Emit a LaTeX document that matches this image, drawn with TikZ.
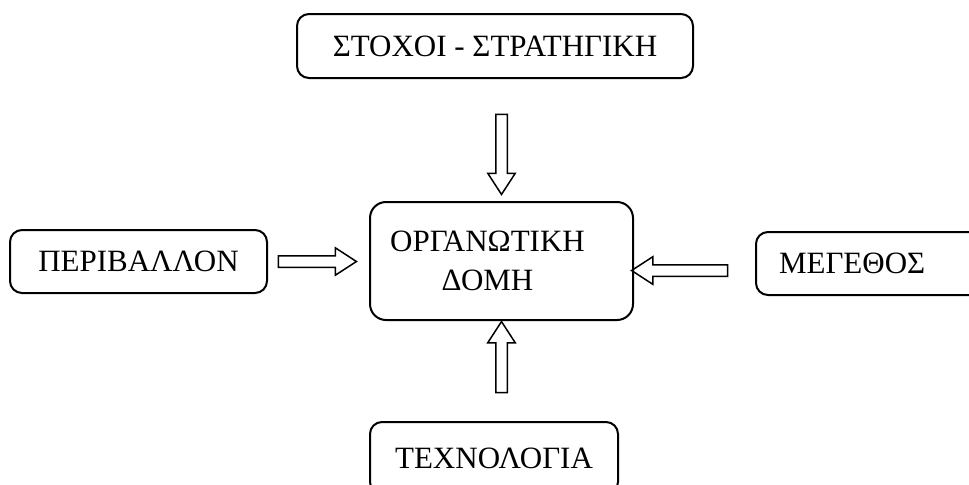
\documentclass[tikz,border=0pt]{standalone}
\usepackage{fontspec}
\setmainfont{Liberation Serif}
\usepackage{tikz}
\usetikzlibrary{calc,shapes.arrows}

\tikzset{
	box/.style={draw, line width=1pt, rounded corners=6pt, inner sep=0pt, align=center,
		font=\fontsize{15.5}{19.5}\selectfont},
	blockarrow/.style={single arrow, draw, line width=0.75pt, inner xsep=0pt, inner ysep=2.5pt,
		single arrow head extend=4pt, single arrow tip angle=66, single arrow head indent=0pt}
}

% hollow arrow from #2 to #3, named #1
\newcommand{\blockarrow}[3]{%
	\path let \p1=($(#3)-(#2)$), \n1={atan2(\y1,\x1)}, \n2={veclen(\x1,\y1)} in
		node[blockarrow, rotate=\n1, minimum height=\n2] (#1) at ($(#2)!0.5!(#3)$) {};}

\begin{document}
\begin{tikzpicture}[x=0.5pt,y=-0.5pt]
		\useasboundingbox (0,0) rectangle (969,484);
		\clip (0,0) rectangle (969,484);

		\node [box, minimum width=198pt, minimum height=32pt] (goal) at (495,46) {ΣΤΟΧΟΙ - ΣΤΡΑΤΗΓΙΚΗ};
		\node [box,
			rounded corners=8pt,
			minimum width=131.5pt,
			minimum height=59pt] (org) at (501.5,261) {ΟΡΓΑΝΩΤΙΚΗ\hspace*{14pt}\\ΔΟΜΗ\hspace*{14pt}};
		\node [box, minimum width=128.5pt, minimum height=31.5pt] (env) at (138.5,261.5) {ΠΕΡΙΒΑΛΛΟΝ};
		\node [box, anchor=west, inner xsep=11.5pt, text width=110pt, align=left,
			minimum height=31.5pt] (size) at (755,263.5) {ΜΕΓΕΘΟΣ};
		\node [box, minimum width=124pt, minimum height=36pt] (tech) at (494,458) {ΤΕΧΝΟΛΟΓΙΑ};

		\coordinate (goalout) at ($(goal.south -| org.north)+(0,31)$);
		\coordinate (orgtop) at ($(org.north)+(0,-11)$);
		\coordinate (techout) at ($(tech.north -| org.south)+(0,-24)$);
		\coordinate (orgbot) at ($(org.south)+(0,5)$);
		\coordinate (envout) at ($(env.east)+(6,0)$);
		\coordinate (orgleft) at ($(org.west |- env.east)+(-17,0)$);
		\coordinate (sizeout) at ($(size.west)+(-23,7)$);
		\coordinate (orgright) at ($(org.east |- sizeout)+(2,0)$);

		\blockarrow{a1}{goalout}{orgtop}
		\blockarrow{a2}{techout}{orgbot}
		\blockarrow{a3}{envout}{orgleft}
		\blockarrow{a4}{sizeout}{orgright}
	\end{tikzpicture}
\end{document}
